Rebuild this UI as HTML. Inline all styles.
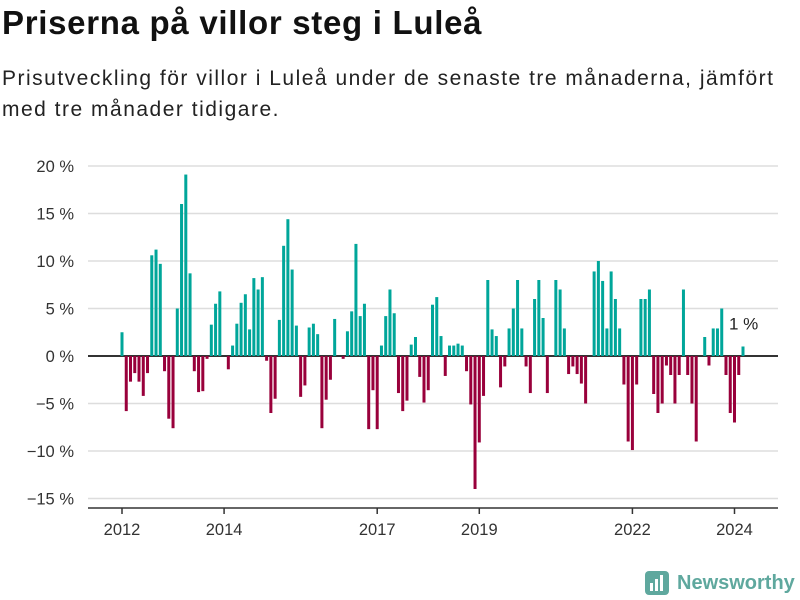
<!DOCTYPE html>
<html><head><meta charset="utf-8">
<style>
body{margin:0;width:800px;height:600px;background:#fff;font-family:"Liberation Sans",sans-serif;overflow:hidden;position:relative}
h1{position:absolute;left:2px;top:4px;margin:0;font-size:33px;font-weight:bold;color:#111;letter-spacing:0.7px}
.sub{position:absolute;left:2px;top:63px;margin:0;font-size:21px;line-height:31px;color:#222;width:798px;letter-spacing:1.5px}
</style></head><body>
<h1>Priserna på villor steg i Luleå</h1>
<p class="sub">Prisutveckling för villor i Luleå under de senaste tre månaderna, jämfört med tre månader tidigare.</p>
<svg id="chart" width="800" height="600" style="position:absolute;left:0;top:0"></svg>
<div style="position:absolute;left:645px;top:569px;display:flex;align-items:center">
<svg width="24" height="28"><rect x="0" y="2" width="24" height="24" rx="4" fill="#5fa89e"/><rect x="5" y="14" width="3" height="8" fill="#fff"/><rect x="10" y="10" width="3" height="12" fill="#fff"/><rect x="15" y="6" width="3" height="16" fill="#fff"/></svg>
<span style="font-size:20px;font-weight:bold;color:#5fa89e;margin-left:8px">Newsworthy</span></div>
<script>
const values=[2.5,-5.8,-2.7,-1.8,-2.7,-4.2,-1.8,10.6,11.2,9.7,-1.6,-6.6,-7.6,5.0,16.0,19.1,8.7,-1.6,-3.8,-3.7,-0.3,3.3,5.5,6.8,0,-1.4,1.1,3.4,5.6,6.5,2.8,8.2,7.0,8.3,-0.5,-6.0,-4.5,3.8,11.6,14.4,9.1,3.2,-4.3,-3.1,3.0,3.4,2.3,-7.6,-4.6,-2.5,3.9,0,-0.3,2.6,4.7,11.8,4.2,5.5,-7.7,-3.6,-7.7,1.1,4.2,7.0,4.5,-3.9,-5.8,-4.7,1.2,2.0,-2.2,-4.9,-3.6,5.4,6.2,2.1,-2.1,1.1,1.1,1.3,1.1,-1.6,-5.1,-14,-9.1,-4.2,8.0,2.8,2.1,-3.3,-1.1,2.9,5.0,8.0,2.9,-1.1,-3.9,6.0,8.0,4.0,-3.9,0,8.0,7.0,2.9,-1.9,-1.1,-1.9,-2.9,-5.0,0,8.9,10.0,7.9,2.9,8.9,6.0,2.9,-3.0,-9.0,-9.9,-3.0,6.0,6.0,7.0,-4.0,-6.0,-5.0,-1.0,-2.0,-5.0,-2.0,7.0,-2.0,-5.0,-9.0,0,2.0,-1.0,2.9,2.9,5.0,-2.0,-6.0,-7.0,-2.0,1.0];
const yTicks=[20,15,10,5,0,-5,-10,-15];
const yearLabels=["2012","2014","2017","2019","2022","2024"];
const yearIndex=[0,24,60,84,120,144];
const NS="http://www.w3.org/2000/svg";
const svg=document.getElementById('chart');
const y=v=>356-v*9.5;
const x0=122,x1=743;
const x=i=>x0+i*(x1-x0)/(values.length-1);
function mk(t,a){const e=document.createElementNS(NS,t);for(const k in a)e.setAttribute(k,a[k]);svg.appendChild(e);return e;}
yTicks.forEach(t=>{
 const g=mk('line',{x1:88,x2:778,y1:y(t),y2:y(t),stroke:t===0?'#333':'#ddd','stroke-width':t===0?2:1.5});
 
 
 const l=mk('text',{x:74,y:y(t)+6,'text-anchor':'end','font-size':16.5,fill:'#333','font-family':'Liberation Sans, sans-serif'});
 l.textContent=(t<0?'−'+(-t):t)+' %';
 
 
});
values.forEach((v,i)=>{
 const r=mk('rect',{x:x(i)-1.5,width:3,y:Math.min(y(v),y(0)),height:Math.abs(y(v)-y(0)),fill:v>=0?'#00a69a':'#99003b'});
 
 
});
const ax=mk('line',{x1:88,x2:778,y1:508,y2:508,stroke:'#333','stroke-width':1.5});


yearLabels.forEach((s,k)=>{
 const xi=x(yearIndex[k]);
 const tk=mk('line',{x1:xi,x2:xi,y1:508,y2:514,stroke:'#333','stroke-width':1.5});
 
 
 const l=mk('text',{x:xi,y:535,'text-anchor':'middle','font-size':16.5,fill:'#333','font-family':'Liberation Sans, sans-serif'});
 l.textContent=s;
 
 
});
const last=values[values.length-1];
const ann=mk('text',{x:729,y:y(last)-17,'font-size':17,fill:'#222','font-family':'Liberation Sans, sans-serif'});
ann.textContent=last.toFixed(0)+' %';


</script>
</body></html>
